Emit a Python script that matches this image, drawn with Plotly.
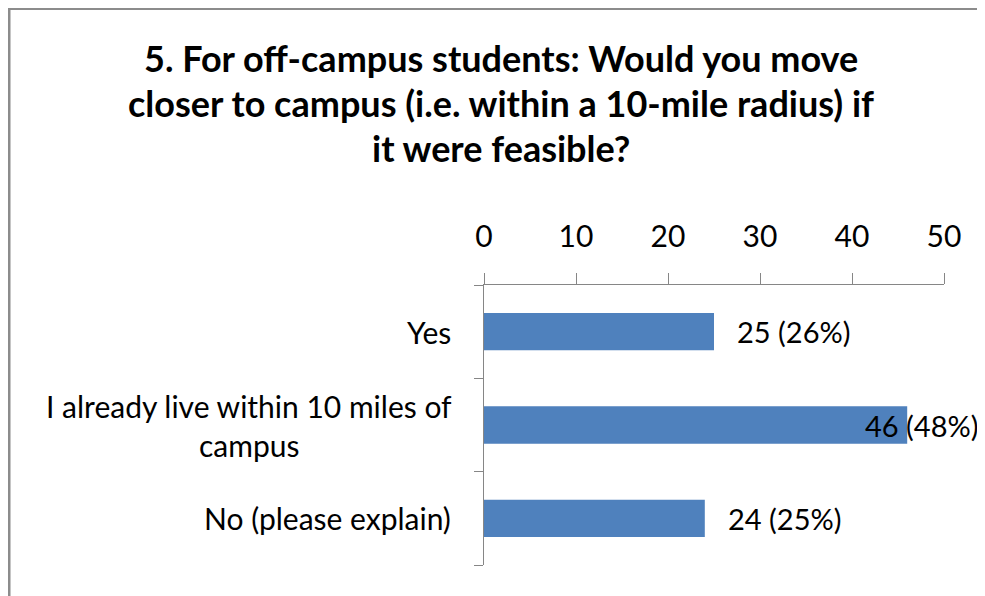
import plotly.graph_objects as go

W, H = 985, 596
OFF = 8  # page body margin: the figure is drawn 8px right and down

title_lines = [
    "5. For off-campus students: Would you move",
    "closer to campus (i.e. within a 10-mile radius) if",
    "it were feasible?",
]
categories = ["Yes", "I already live within 10 miles of<br>campus", "No (please explain)"]
counts = [25, 46, 24]
percents = [26, 48, 25]
x_ticks = [0, 10, 20, 30, 40, 50]

FONT = "Lato, Carlito, 'Open Sans', sans-serif"
BAR = "#4F81BD"
AXIS = "#868686"
FS = 30

# plot area in figure pixels (screen position minus the page offset)
left, right, top, bottom = 484 - OFF, 944 - OFF, 285 - OFF, 565 - OFF


def px_x(px):
    # figure pixel -> paper x
    return (px - left) / (right - left)


def px_y(px):
    # figure pixel -> paper y
    return (bottom - px) / (bottom - top)


fig = go.Figure()
fig.add_trace(
    go.Bar(
        x=counts,
        y=list(range(len(categories))),
        orientation="h",
        width=0.4,
        marker=dict(color=BAR, line=dict(width=0)),
        hoverinfo="x",
    )
)

annotations = []
px_per_unit = (right - left) / (x_ticks[-1] - x_ticks[0])

# title, one line per annotation (Excel line spacing is ~45px)
for k, line in enumerate(title_lines):
    annotations.append(
        dict(
            x=px_x(501 - OFF), xref="paper",
            y=px_y(58 - OFF + 45 * k), yref="paper",
            text=f"<b>{line}</b>", showarrow=False,
            xanchor="center", yanchor="middle",
            font=dict(family=FONT, size=36, color="#000000"),
        )
    )

# category labels, one annotation per line so the line spacing matches
for i, cat in enumerate(categories):
    lines = cat.split("<br>")
    n = len(lines)
    for j, line in enumerate(lines):
        annotations.append(
            dict(
                x=0, xref="paper", y=i, yref="y",
                text=line, showarrow=False,
                xanchor="center" if n > 1 else "right",
                xshift=-31 - (204 if n > 1 else 0),
                yshift=(n - 1) * 19.5 - j * 39,
                font=dict(family=FONT, size=FS, color="#000000"),
            )
        )

# value labels, pulled back inside the chart if they would spill over
limit = 976 - OFF
for i, (c, p) in enumerate(zip(counts, percents)):
    label = f"{c} ({p}%)"
    est_w = 113
    start = left + c * px_per_unit + 21
    shift = 21
    if start + est_w > limit:
        shift -= start + est_w - limit
    annotations.append(
        dict(
            x=c, xref="x", y=i, yref="y",
            text=label, showarrow=False,
            xanchor="left", xshift=shift,
            font=dict(family=FONT, size=29, color="#000000"),
        )
    )

fig.update_layout(
    width=W,
    height=H,
    paper_bgcolor="white",
    plot_bgcolor="white",
    showlegend=False,
    margin=dict(l=left, r=W - right, t=top, b=H - bottom, pad=0),
    xaxis=dict(
        side="top",
        range=[x_ticks[0], x_ticks[-1]],
        tickvals=x_ticks,
        ticks="outside",
        ticklen=11,
        tickcolor=AXIS,
        tickwidth=1,
        showline=True,
        linecolor=AXIS,
        linewidth=1,
        showgrid=False,
        zeroline=False,
        ticklabelstandoff=14,
        tickfont=dict(family=FONT, size=FS, color="#000000"),
        fixedrange=True,
    ),
    yaxis=dict(
        type="linear",
        range=[len(categories) - 0.5, -0.5],
        tickvals=[-0.5 + k for k in range(len(categories) + 1)],
        showticklabels=False,
        ticks="outside",
        ticklen=9,
        tickcolor=AXIS,
        showline=True,
        linecolor=AXIS,
        linewidth=1,
        showgrid=False,
        zeroline=False,
        fixedrange=True,
    ),
    annotations=annotations,
    shapes=[
        dict(
            type="rect", xref="paper", yref="paper",
            x0=px_x(9 - OFF), x1=px_x(W + 20),
            y0=px_y(H + 20), y1=px_y(0.5),
            line=dict(color="#8C8C8C", width=3),
            fillcolor="rgba(0,0,0,0)",
        )
    ],
)

fig.write_html("out.html")
